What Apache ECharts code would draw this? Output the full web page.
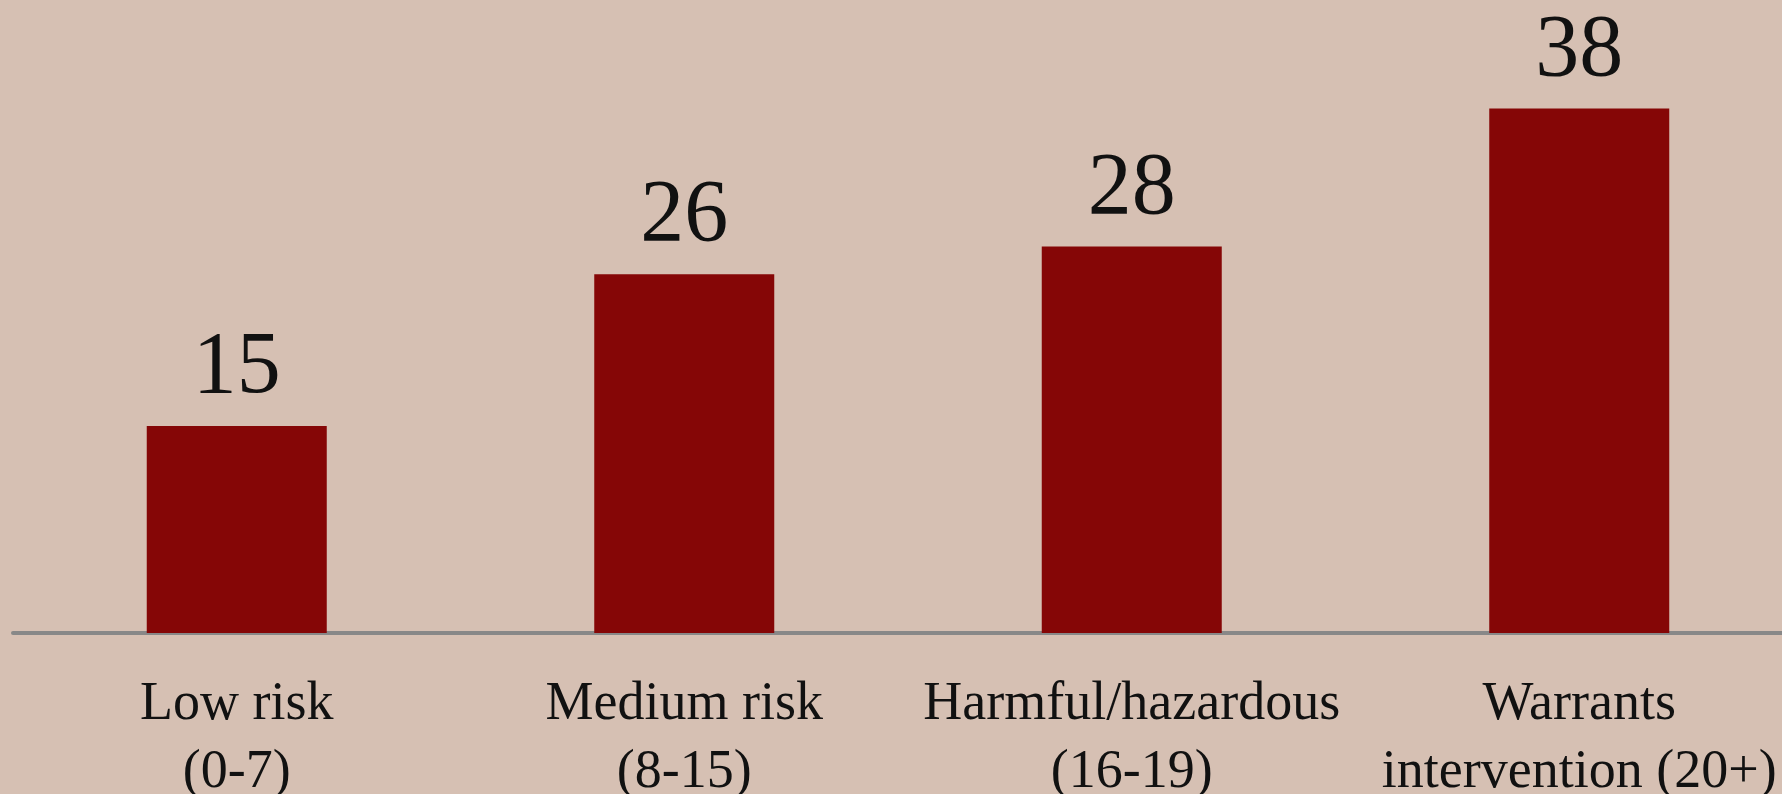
<!DOCTYPE html>
<html>
<head>
<meta charset="utf-8">
<script src="https://cdn.jsdelivr.net/npm/echarts@6/dist/echarts.min.js"></script>
<style>
html,body{margin:0;padding:0;background:#D6C0B3;overflow:hidden;}
#c{width:1782px;height:794px;}
</style>
</head>
<body>
<div id="c"></div>
<script>
const categories = ["Low risk\n(0-7)", "Medium risk\n(8-15)", "Harmful/hazardous\n(16-19)", "Warrants\nintervention (20+)"];
const values = [15, 26, 28, 38];

const chart = echarts.init(document.getElementById('c'));
chart.setOption({
  backgroundColor: '#D6C0B3',
  animation: false,
  grid: { left: 13, right: -21, top: 81, bottom: 161, containLabel: false, outerBoundsMode: 'none' },
  xAxis: {
    type: 'category',
    data: categories,
    offset: 3,
    axisLine: { show: true, lineStyle: { color: '#888888', width: 4 } },
    axisTick: { show: false },
    axisLabel: {
      interval: 0,
      margin: 35,
      hideOverlap: false,
      fontFamily: 'Liberation Serif',
      fontSize: 54,
      lineHeight: 68,
      color: '#111111'
    }
  },
  yAxis: {
    type: 'value',
    min: 0,
    max: 40,
    show: false,
    splitLine: { show: false }
  },
  series: [{
    type: 'bar',
    data: values,
    barWidth: 180,
    itemStyle: { color: '#850606' },
    label: {
      show: true,
      position: 'top',
      distance: 13,
      fontFamily: 'Liberation Serif',
      fontSize: 88,
      color: '#111111'
    }
  }]
});
</script>
</body>
</html>
